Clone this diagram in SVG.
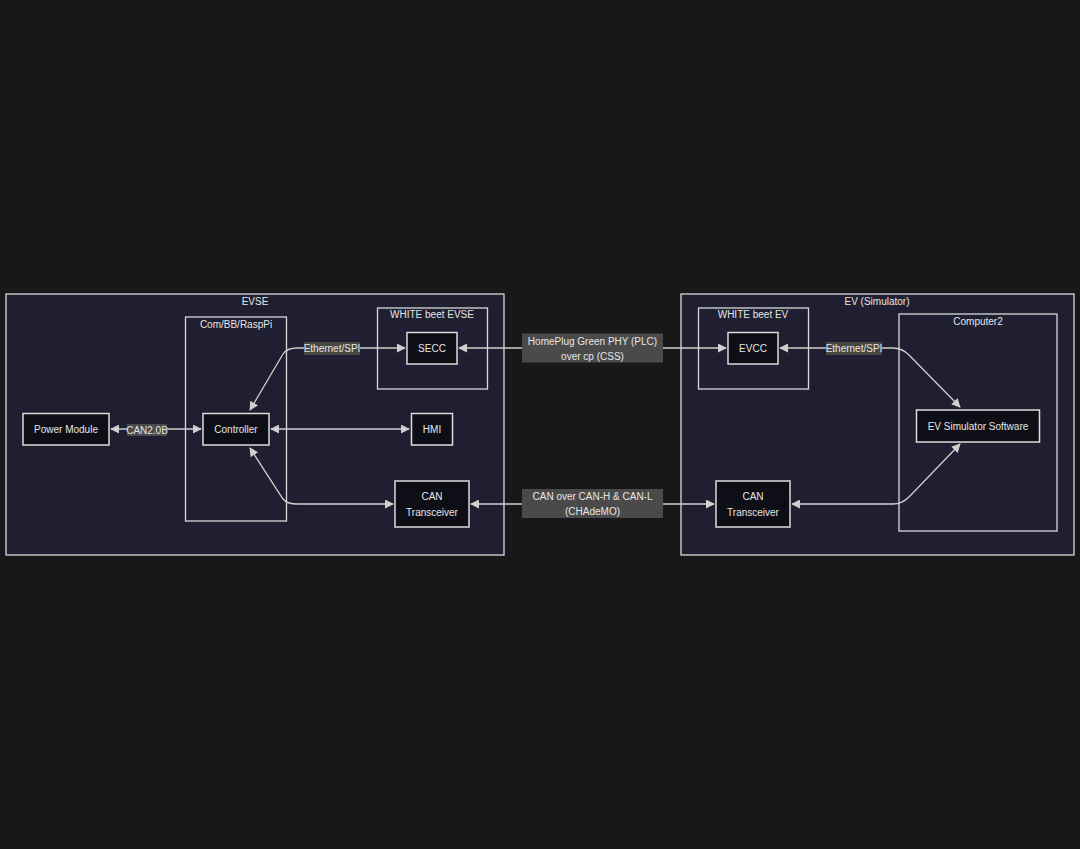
<svg xmlns="http://www.w3.org/2000/svg" width="1080" height="849" viewBox="0 0 1080 849">
<defs>
<style>
.cl{fill:#1f1f31;stroke:#d9d9d9;stroke-width:1.3}
.sub{fill:#1f1f31;stroke:#d9d9d9;stroke-width:1.3}
.nd{fill:#0e0e16;stroke:#dcdcdc;stroke-width:1.5}
text{font-family:"Liberation Sans",Arial,sans-serif;font-size:10px;fill:#e6e6e6;text-anchor:middle;dominant-baseline:central}
.e{fill:none;stroke:#cfcfcf;stroke-width:1.3;marker-start:url(#a);marker-end:url(#a)}
.lb{fill:#4a4a4a}
.lbg{fill:#464841}
</style>
<marker id="a" viewBox="0 0 10 10" refX="9" refY="5" markerWidth="9" markerHeight="9" markerUnits="userSpaceOnUse" orient="auto-start-reverse">
<path d="M0,0 L10,5 L0,10 z" fill="#d0d0d0"/>
</marker>
</defs>
<rect width="1080" height="849" fill="#181818"/>

<g id="EVSE">
<rect class="cl" x="6" y="294" width="498" height="261"/>
<text x="255" y="301">EVSE</text>
</g>
<g id="ComBBRaspPi">
<rect class="sub" x="185.5" y="317" width="101" height="204"/>
<text x="236" y="324">Com/BB/RaspPi</text>
</g>
<g id="WHITEbeetEVSE">
<rect class="sub" x="377.5" y="308" width="110" height="81"/>
<text x="432" y="314.5">WHITE beet EVSE</text>
</g>
<g id="EV">
<rect class="cl" x="681" y="294" width="393" height="261"/>
<text x="877" y="301">EV (Simulator)</text>
</g>
<g id="WHITEbeetEV">
<rect class="sub" x="698.5" y="308" width="110" height="81"/>
<text x="753" y="314.5">WHITE beet EV</text>
</g>
<g id="Computer2">
<rect class="sub" x="899" y="314" width="158" height="217"/>
<text x="978" y="321">Computer2</text>
</g>

<g id="connectors">
<path class="e" d="M111,429 L201,429"/>
<path class="e" d="M250,410 L283,354 Q287,348 297,348 L405,348"/>
<path class="e" d="M271,429 L409,429"/>
<path class="e" d="M250,448 L283,499 Q287,504 297,504 L393,504"/>
<path class="e" d="M459,348 L726,348"/>
<path class="e" d="M471,504 L714,504"/>
<path class="e" d="M780,348 L893,348 Q902,348 909,355 L960,407"/>
<path class="e" d="M792,504 L893,504 Q902,504 909,497 L960,444"/>
<rect class="lb" x="127" y="424" width="40" height="12"/>
<text x="147" y="430">CAN2.0B</text>
<rect class="lbg" x="304" y="342" width="56" height="13"/>
<text x="332" y="348">Ethernet/SPI</text>
<rect class="lbg" x="826" y="342" width="56" height="13"/>
<text x="854" y="348">Ethernet/SPI</text>
<rect class="lb" x="522" y="333.5" width="141" height="29"/>
<text x="592.5" y="341">HomePlug Green PHY (PLC)</text>
<text x="592.5" y="356">over cp (CSS)</text>
<rect class="lb" x="522" y="489" width="141" height="29"/>
<text x="592.5" y="496.5">CAN over CAN-H &amp; CAN-L</text>
<text x="592.5" y="511.5">(CHAdeMO)</text>
</g>

<g id="PowerModule">
<rect class="nd" x="23" y="413.5" width="86" height="31.5"/>
<text x="66" y="429.5">Power Module</text>
</g>
<g id="Controller">
<rect class="nd" x="203" y="413.5" width="66" height="31.5"/>
<text x="236" y="429.5">Controller</text>
</g>
<g id="SECC">
<rect class="nd" x="407" y="332.5" width="50" height="31.5"/>
<text x="432" y="348.5">SECC</text>
</g>
<g id="HMI">
<rect class="nd" x="411.5" y="413.5" width="41" height="31.5"/>
<text x="432" y="429.5">HMI</text>
</g>
<g id="CANTransceiverEVSE">
<rect class="nd" x="395" y="481" width="74" height="46"/>
<text x="432" y="496">CAN</text>
<text x="432" y="512">Transceiver</text>
</g>
<g id="EVCC">
<rect class="nd" x="728" y="332.5" width="50" height="31.5"/>
<text x="753" y="348.5">EVCC</text>
</g>
<g id="EVSimulatorSoftware">
<rect class="nd" x="916.5" y="410" width="123" height="32"/>
<text x="978" y="426">EV Simulator Software</text>
</g>
<g id="CANTransceiverEV">
<rect class="nd" x="716" y="481" width="74" height="46"/>
<text x="753" y="496">CAN</text>
<text x="753" y="512">Transceiver</text>
</g>
</svg>
